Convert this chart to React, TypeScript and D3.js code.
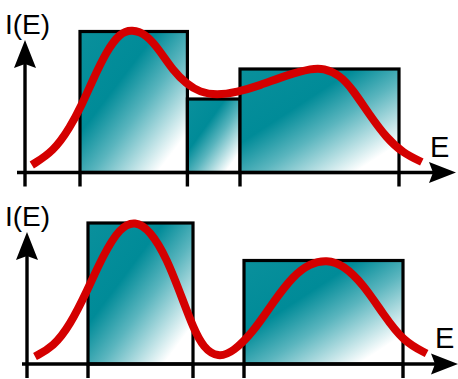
import React from "react";
import * as d3 from "d3";

// Upper panel: three contiguous energy bins and the measured spectrum
const topBinStarts = [1.375, 4.06, 5.375];
const topBinEnds = [4.06, 5.375, 9.35];
const topBinHeights = [0.94, 0.49, 0.69];
const topTicks = [0, 1.375, 4.06, 5.375, 9.35];
const topCurveE = [0.17, 0.71, 1.125, 1.42, 1.7, 2.04, 2.375, 2.67, 3.04, 3.375, 3.7, 4.04, 4.375, 4.79, 5.29, 5.875, 6.54, 7.2, 7.45, 7.875, 8.2, 8.625, 9.04, 9.45, 9.92];
const topCurveI = [0.05, 0.14, 0.3, 0.45, 0.62, 0.81, 0.93, 0.955, 0.92, 0.81, 0.68, 0.59, 0.535, 0.515, 0.535, 0.58, 0.65, 0.695, 0.695, 0.65, 0.55, 0.38, 0.23, 0.13, 0.07];

// Lower panel: two separated bins and a two-peak spectrum
const bottomBinStarts = [1.525, 5.425];
const bottomBinEnds = [4.15, 9.4];
const bottomBinHeights = [0.94, 0.69];
const bottomTicks = [0, 1.525, 4.15, 5.425, 9.4];
const bottomCurveE = [0.2, 0.66, 1.075, 1.49, 1.91, 2.325, 2.7, 3.075, 3.49, 3.91, 4.16, 4.41, 4.78, 5.16, 5.66, 6.16, 6.66, 7.075, 7.49, 7.91, 8.41, 8.91, 9.41, 9.99];
const bottomCurveI = [0.05, 0.115, 0.26, 0.48, 0.73, 0.91, 0.955, 0.89, 0.71, 0.415, 0.24, 0.107, 0.042, 0.082, 0.215, 0.415, 0.59, 0.67, 0.695, 0.66, 0.53, 0.33, 0.15, 0.07];

const yLabel = "I(E)";
const xLabel = "E";

const W = 458;
const H = 379;
const FONT = "'Liberation Sans', Arial, sans-serif";

type PanelProps = {
  starts: number[];
  ends: number[];
  heights: number[];
  ticks: number[];
  curveE: number[];
  curveI: number[];
  x0: number;
  axisY: number;
  xAxisStart: number;
  yAxisTop: number;
  arrowTipX: number;
  yLabelPos: [number, number];
  xLabelPos: [number, number];
};

function Panel(p: PanelProps) {
  const x = d3.scaleLinear().domain([0, 10]).range([p.x0, p.x0 + 400]);
  const y = d3.scaleLinear().domain([0, 1]).range([p.axisY, p.axisY - 150]);
  const pts: [number, number][] = p.curveE.map((e, i) => [e, p.curveI[i]]);
  const line = d3
    .line<[number, number]>()
    .x((d) => x(d[0]))
    .y((d) => y(d[1]))
    .curve(d3.curveBasis);
  const tickLen = 14;
  const tip = p.yAxisTop;
  const ax = p.x0;
  const vArrow = `M${ax},${tip} L${ax + 11},${tip + 28} L${ax},${tip + 24} L${ax - 11},${tip + 28} Z`;
  const hx = p.arrowTipX;
  const ay = p.axisY;
  const hArrow = `M${hx},${ay} L${hx - 27},${ay - 10.5} L${hx - 23},${ay} L${hx - 27},${ay + 10.5} Z`;
  return (
    <g>
      {p.starts.map((s, i) => (
        <rect
          key={i}
          x={x(s)}
          y={y(p.heights[i])}
          width={x(p.ends[i]) - x(s)}
          height={y(0) - y(p.heights[i])}
          fill="url(#binFill)"
          stroke="#000"
          strokeWidth={3.2}
        />
      ))}
      {p.ticks.map((t, i) => (
        <line key={i} x1={x(t)} x2={x(t)} y1={y(0)} y2={y(0) + tickLen} stroke="#000" strokeWidth={3.4} />
      ))}
      <line x1={ax} x2={ax} y1={tip + 20} y2={y(0)} stroke="#000" strokeWidth={3.4} />
      <line x1={p.xAxisStart} x2={hx - 12} y1={ay} y2={ay} stroke="#000" strokeWidth={3.4} />
      <path d={vArrow} fill="#000" />
      <path d={hArrow} fill="#000" />
      <path d={line(pts) || ""} fill="none" stroke="#d40000" strokeWidth={8} strokeLinecap="butt" />
      <text x={p.yLabelPos[0]} y={p.yLabelPos[1]} fontFamily={FONT} fontSize={28} fill="#000">
        {yLabel}
      </text>
      <text x={p.xLabelPos[0]} y={p.xLabelPos[1]} fontFamily={FONT} fontSize={29} fill="#000">
        {xLabel}
      </text>
    </g>
  );
}

export default function App() {
  return (
    <svg
      width={W}
      height={H}
      viewBox={`0 0 ${W} ${H}`}
      style={{ position: "absolute", left: 0, top: 0, background: "#fff" }}
    >
      <defs>
        <linearGradient id="binFill" x1="0" y1="0" x2="1" y2="1">
          <stop offset="0" stopColor="#0a909c" />
          <stop offset="0.36" stopColor="#008b98" />
          <stop offset="0.56" stopColor="#5ab5be" />
          <stop offset="0.86" stopColor="#ffffff" />
        </linearGradient>
      </defs>
      <Panel
        starts={topBinStarts}
        ends={topBinEnds}
        heights={topBinHeights}
        ticks={topTicks}
        curveE={topCurveE}
        curveI={topCurveI}
        x0={25}
        axisY={172.5}
        xAxisStart={17}
        yAxisTop={40}
        arrowTipX={456}
        yLabelPos={[5, 33.5]}
        xLabelPos={[430, 157]}
      />
      <Panel
        starts={bottomBinStarts}
        ends={bottomBinEnds}
        heights={bottomBinHeights}
        ticks={bottomTicks}
        curveE={bottomCurveE}
        curveI={bottomCurveI}
        x0={27}
        axisY={364}
        xAxisStart={22}
        yAxisTop={232}
        arrowTipX={458}
        yLabelPos={[5, 225.5]}
        xLabelPos={[435, 348]}
      />
    </svg>
  );
}
